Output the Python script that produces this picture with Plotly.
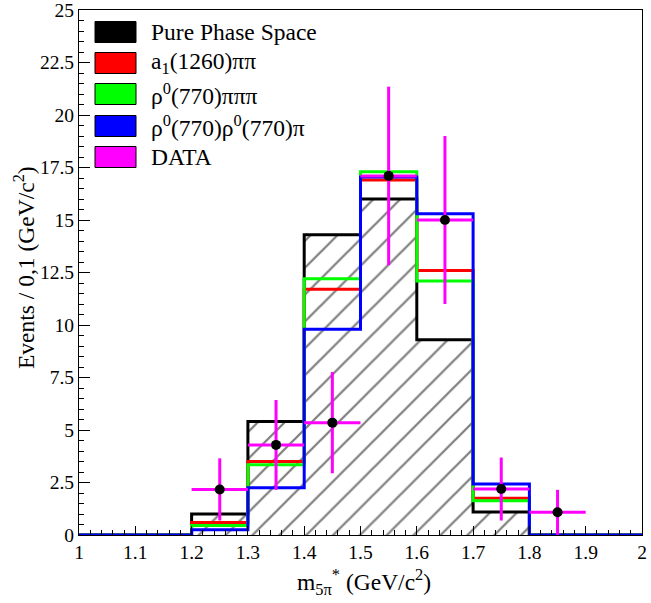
import plotly.graph_objects as go

# Histogram binning: 10 bins of 0.1 GeV/c^2 between 1.0 and 2.0
bin_edges = [1.0, 1.1, 1.2, 1.3, 1.4, 1.5, 1.6, 1.7, 1.8, 1.9, 2.0]

# Monte Carlo expectations per bin
phase_space = [0, 0, 1.0, 5.4, 14.3, 16.0, 9.3, 1.1, 0, 0]
a1_pipi = [0, 0, 0.6, 3.5, 11.7, 16.9, 12.6, 1.75, 0, 0]
rho_pipipi = [0, 0, 0.45, 3.35, 12.2, 17.3, 12.1, 1.63, 0, 0]
rho_rho_pi = [0, 0, 0.25, 2.25, 9.8, 17.05, 15.3, 2.43, 0, 0]

# Measured data points
data_x = [1.25, 1.35, 1.45, 1.55, 1.65, 1.75, 1.85]
data_y = [2.17, 4.29, 5.35, 17.1, 15.0, 2.19, 1.08]
data_err = [1.48, 2.14, 2.41, 4.25, 4.0, 1.5, 1.07]
data_xerr = [0.05] * len(data_x)

legend_labels = [
    "Pure Phase Space",
    "a<sub>1</sub>(1260)ππ",
    "ρ<sup>0</sup>(770)πππ",
    "ρ<sup>0</sup>(770)ρ<sup>0</sup>(770)π",
    "DATA",
]
legend_colors = ["#000000", "#ff0000", "#00ff00", "#0000ff", "#ff00ff"]

FONT = "'Liberation Serif', 'Times New Roman', Times, serif"
W, H = 651, 603
ML, MR, MT, MB = 79, 9, 10, 68
PW, PH = W - ML - MR, H - MT - MB


def steps(values):
    return list(values) + [values[-1]]


fig = go.Figure()

# Phase-space histogram with hatched fill
fig.add_trace(go.Scatter(
    x=bin_edges, y=steps(phase_space), mode="lines", line_shape="hv",
    line=dict(color="#000000", width=3),
    fill="tozeroy", fillcolor="rgba(0,0,0,0)",
    fillpattern=dict(shape="/", fgcolor="#000000", bgcolor="rgba(0,0,0,0)",
                     size=19, solidity=0.12, fillmode="overlay"),
    showlegend=False, hoverinfo="skip",
))

for vals, col in [(a1_pipi, "#ff0000"), (rho_pipipi, "#00ff00"), (rho_rho_pi, "#0000ff")]:
    fig.add_trace(go.Scatter(
        x=bin_edges, y=steps(vals), mode="lines", line_shape="hv",
        line=dict(color=col, width=3), showlegend=False, hoverinfo="skip",
    ))

fig.add_trace(go.Scatter(
    x=data_x, y=data_y, mode="markers",
    marker=dict(color="#000000", size=10),
    error_y=dict(type="data", array=data_err, color="#ff00ff", thickness=3, width=0),
    error_x=dict(type="data", array=data_xerr, color="#ff00ff", thickness=3, width=0),
    showlegend=False, hoverinfo="skip",
))

# Legend drawn as boxes + labels in the upper-left corner
shapes = []
annotations = []
row_centers = [32, 63, 94, 126, 157]
for lab, col, yc in zip(legend_labels, legend_colors, row_centers):
    x0, x1 = (95 - ML) / PW, (136 - ML) / PW
    y0, y1 = (H - MB - (yc + 10.5)) / PH, (H - MB - (yc - 10.5)) / PH
    shapes.append(dict(type="rect", xref="paper", yref="paper",
                       x0=x0, x1=x1, y0=y0, y1=y1,
                       fillcolor=col, line=dict(color="#000000", width=1)))
    annotations.append(dict(xref="paper", yref="paper", x=(149 - ML) / PW,
                            y=(H - MB - yc) / PH, xanchor="left", yanchor="middle",
                            text=lab, showarrow=False,
                            font=dict(family=FONT, size=23.5, color="#000000")))

# Axis titles
annotations.append(dict(xref="paper", yref="paper", x=(364 - ML) / PW, y=(H - MB - 582) / PH,
                        xanchor="center", yanchor="middle", showarrow=False,
                        text="m<sub>5π</sub><sup>*</sup> (GeV/c<sup>2</sup>)",
                        font=dict(family=FONT, size=23.5, color="#000000")))
annotations.append(dict(xref="paper", yref="paper", x=(24 - ML) / PW, y=(H - MB - 268) / PH,
                        xanchor="center", yanchor="middle", showarrow=False, textangle=-90,
                        text="Events / 0,1 (GeV/c<sup>2</sup>)",
                        font=dict(family=FONT, size=23.5, color="#000000")))

axis_common = dict(
    showgrid=False, zeroline=False, showline=True, linecolor="#000000", linewidth=1,
    mirror=True, ticks="inside", tickcolor="#000000", tickwidth=1,
    ticklabeloverflow="allow", automargin=False,
    tickfont=dict(family=FONT, size=19.5, color="#000000"),
)

fig.update_layout(
    width=W, height=H,
    margin=dict(l=ML, r=MR, t=MT, b=MB, autoexpand=False),
    paper_bgcolor="#ffffff", plot_bgcolor="#ffffff",
    font=dict(family=FONT),
    xaxis=dict(range=[1.0, 2.0], tick0=1.0, dtick=0.1, ticklen=9,
               minor=dict(dtick=0.02, ticks="inside", ticklen=5, tickcolor="#000000"),
               **axis_common),
    yaxis=dict(range=[0, 25], tick0=0, dtick=2.5, ticklen=11,
               minor=dict(dtick=0.5, ticks="inside", ticklen=5, tickcolor="#000000"),
               **axis_common),
    shapes=shapes,
    annotations=annotations,
)

fig.write_html("out.html")
